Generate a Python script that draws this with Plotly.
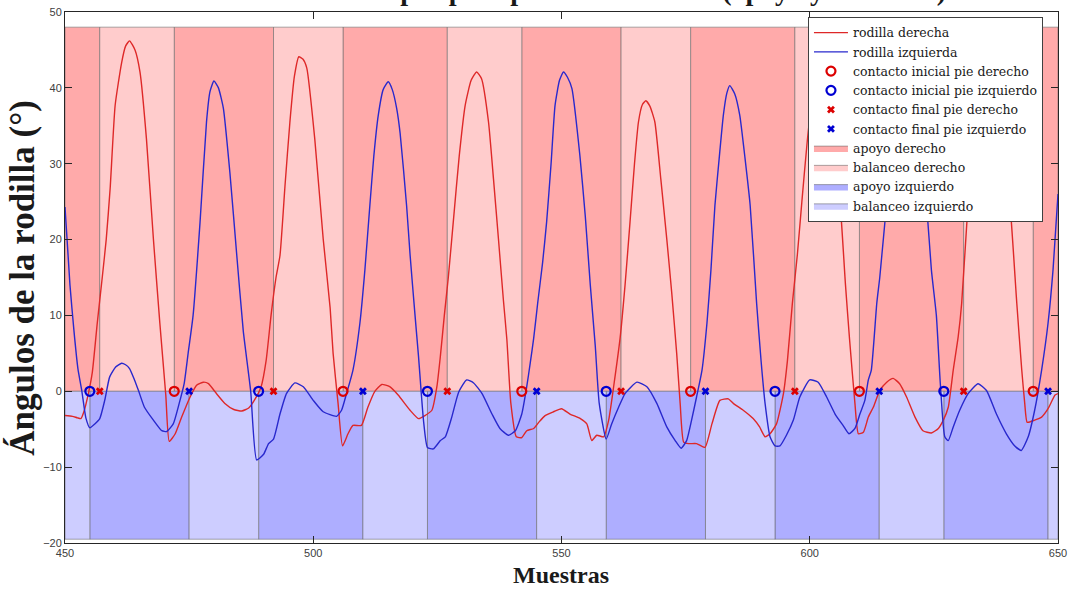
import plotly.graph_objects as go

# ---------------- data ----------------
x_range = [450, 650]
y_range = [-20, 50]

# rodilla derecha (muestra, ángulo)
der_x = [450, 451.5, 452.5, 453.2, 453.8, 454.7, 455.5, 456.5, 457.5, 458.3, 459.1, 460.1, 461.4, 462.2, 463,
         464.1, 465.1, 466.4, 467.8, 469.1, 470.3, 471, 472.2, 473.5, 475.2, 476.5, 477.9, 478.9, 480.5, 482.2,
         484, 485.6, 487, 488.3, 489.5, 490.5, 491.5, 492.5, 493.3, 494.3, 495.3, 496.2, 497.1, 497.9, 498.7,
         500.3, 502, 503.4, 504, 505, 505.9, 507, 508, 509.7, 511, 512.4, 513.8, 515.4, 517.1, 519.5, 521.2,
         522.5, 523.9, 524.9, 525.6, 526.4, 527.2, 528.2, 529.4, 530.6, 531.8, 532.9, 533.9, 535.3, 536.3, 537.3,
         538.3, 539, 539.8, 540.9, 542, 543, 544.4, 545.4, 546.7, 548.4, 550, 551.7, 553.8, 555.1, 556.1, 557.1,
         558.5, 559.5, 560.5, 561.8, 562.8, 563.8, 564.7, 565.5, 566.3, 567, 567.8, 568.8, 570, 571.2, 572.2,
         573.2, 573.9, 574.6, 575.6, 577.2, 578.9, 580.3, 581.9, 583.6, 584.6, 586.6, 588.6, 589.9, 591, 592,
         593.3, 594.7, 595.5, 596.5, 597.5, 598.4, 599.5, 600.6, 601.8, 602.8, 604, 605.1, 606.1, 607.2, 608,
         609.1, 609.8, 610.8, 611.8, 612.8, 614.1, 615.5, 616.8, 618.1, 619.5, 621.2, 622.8, 624.5, 625.9, 626.9,
         627.9, 628.9, 629.9, 630.6, 631.9, 633, 634.3, 635.6, 636.8, 638, 639.2, 640.3, 641.7, 642.7, 643.3,
         643.8, 645.3, 646.7, 648, 649.4, 650]
der_y = [-3.2, -3.3, -3.5, -3.6, -2.7, -0.3, 2.5, 9, 15, 20, 26.8, 37.7, 43.3, 45.5, 46.2,
         45, 42.1, 33.3, 20.1, 9.0, -0.5, -6.6, -5.6, -3.4, -0.75, 0.8, 1.2, 1.0, -0.3, -1.6,
         -2.4, -2.6, -2.2, -1.0, 0.6, 4, 10, 15, 17.9, 27, 35.5, 41.5, 44.1, 43.8, 42.6,
         33.3, 20.1, 11, 5, -1.6, -7.2, -5.6, -4.5, -4.5, -2.1, 0, 0.9, 0.6, -0.5, -2.5, -3.6,
         -3.2, -2.5, 0.6, 4.6, 10, 15, 22.3, 31, 37.7, 41, 42.1, 41.2, 35.5, 28, 20.1,
         12, 6.8, -1.6, -6.0, -6.1, -5.2, -4.9, -4.1, -3.2, -2.7, -2.3, -3.0, -3.6, -4.3, -6.5, -5.8,
         -6.0, -3.8, 0.6, 7, 14, 22.3, 30, 35.5, 37.8, 38.3, 37.6, 35.5, 28, 20.1, 13,
         5, -1.6, -6.7, -6.9, -6.9, -7.4, -4.3, -1.2, -1.0, -1.6, -2.5, -3.6, -4.7, -6.0, -5.6,
         -4.3, -0.3, 4, 11.6, 18, 24.9, 33, 39, 42.5, 42, 37, 30, 24.9, 14, 7,
         -1.6, -5.6, -5.4, -3.4, -2.1, 0.1, 1.2, 1.7, 1.0, -0.75, -3.4, -5.2, -5.5, -4.9, -3.8,
         -2.1, 2.8, 7.2, 11.6, 24.9, 34, 40.5, 43.5, 43, 37, 30, 24.9, 11.6, 2.8, -1.6,
         -4.1, -3.8, -3.4, -2.3, -0.5, -0.3]

# rodilla izquierda (muestra, ángulo)
izq_x = [450, 451, 451.8, 452.6, 453.4, 454.2, 455, 456, 457, 458, 459, 460.2, 461.4, 462.2, 463, 464, 464.8,
         466, 467.8, 469.5, 470.5, 471.8, 473, 474, 474.8, 475.8, 477.2, 478.5, 479.2, 480, 480.9, 481.9,
         483.2, 484.6, 485.9, 487.4, 488.6, 490, 491, 492, 493.3, 494.6, 496.3, 498, 500, 502, 504.7, 505.7,
         506.7, 508, 509.4, 510.4, 511.4, 512.2, 513.1, 514.1, 515.1, 515.9, 516.8, 517.5, 518.8, 519.5,
         520.5, 521.2, 522.2, 523, 524.2, 525.6, 526.6, 527.9, 529.3, 530.9, 532.3, 534, 536, 537.6, 539.3,
         540.7, 542, 543, 543.7, 544.4, 545.2, 546.2, 547, 547.9, 548.7, 549.6, 550.4, 551.2, 552.1, 553.7,
         554.8, 555.8, 556.8, 557.6, 559, 560.1, 561.5, 562.8, 565.2, 567.2, 569.2, 571.2, 572.9, 574.1,
         575.2, 576.2, 577.2, 578.3, 579.3, 580.1, 580.9, 581.8, 582.6, 583.3, 583.9, 584.9, 585.9, 587, 588,
         589.3, 590.2, 591, 592, 593, 594, 595.3, 596.7, 598, 600, 601.7, 603.4, 605.1, 606.7, 607.9, 609.1,
         610.1, 611.1, 611.8, 612.4, 613.5, 614.1, 615.5, 616.7, 618, 619.4, 620.8, 622.2, 623.5, 624.5,
         625.5, 626.3, 627.2, 627.9, 628.9, 630.2, 631.9, 633.9, 635.6, 637.6, 639.6, 641.3, 642.6, 644,
         645.3, 646.7, 648, 649, 650]
izq_y = [24.3, 14, 8, 3, 0, -3.5, -4.8, -4.3, -3.6, -1.2, 1.9, 3.2, 3.7, 3.5, 3.0, 1.5, 0.1,
         -2.1, -3.8, -5.2, -5.3, -4.3, -1.6, 1.0, 5, 10, 22.3, 35.5, 39.5, 40.9, 40, 37.3,
         28.9, 17.9, 8, 0, -9.05, -8.3, -6.9, -6.3, -3.0, -0.3, 1.1, 0.6, -1.2, -2.7, -3.3, -2.5,
         -0.3, 2.8, 9.0, 16, 24.5, 31, 36.4, 39.8, 40.8, 39.8, 37.3, 34, 24.5, 18,
         10, 4.6, -3.8, -7.4, -7.6, -6.5, -6.0, -3.4, -0.1, 1.5, 1.1, -0.3, -3.0, -4.9, -5.8,
         -5.2, -3.0, 0.6, 3.7, 7, 11.6, 17, 22.3, 30, 37.7, 41, 42.1, 41.4, 39.9, 31.1,
         23, 14, 6, -1.6, -6.3, -4.3, -2.1, -0.3, 1.2, 0.6, -1.6, -4.7, -6.5, -7.5,
         -6.5, -3.8, -0.75, 2.8, 9, 16, 24.5, 31, 36.4, 39.3, 40.3, 39.2, 36.4, 30.5, 24.5,
         11.6, 4, -1.6, -6.0, -7.2, -7.2, -5.8, -3.8, -0.75, 1.5, 1.2, -0.75, -3.0, -4.5, -5.6, -4.9,
         -3.0, -1.2, 1.5, 2.8, 11.6, 15, 24.9, 33, 38.5, 41, 39.5, 33, 24.9, 16,
         10, 1, -6.0, -6.5, -4.7, -2.5, -0.3, 1.0, 0.1, -3.0, -5.6, -7.2, -7.8, -6.0,
         -2.5, 2.8, 9.0, 16, 26]

# eventos (muestras)
ci_der = [472, 506, 542, 576, 610, 645]   # contacto inicial pie derecho
ci_izq = [455, 489, 523, 559, 593, 627]   # contacto inicial pie izquierdo
cf_der = [457, 492, 527, 562, 597, 631]   # contacto final pie derecho
cf_izq = [475, 510, 545, 579, 614, 648]   # contacto final pie izquierdo

# ---------------- styles ----------------
RED_TOP = 48
BLUE_BOT = -19.5
col_line_r = "rgb(222,40,40)"
col_line_b = "rgb(40,40,205)"
col_ap_r = "rgb(255,170,170)"
col_bal_r = "rgb(255,204,204)"
col_ap_b = "rgb(174,174,255)"
col_bal_b = "rgb(205,205,255)"
edge = "rgba(100,100,100,0.55)"
serif = "Liberation Serif, Times New Roman, serif"
legend_font = "DejaVu Serif, serif"


def phases(start_ev, end_ev):
    """stance = [initial contact -> next final contact], swing = the rest"""
    bounds = sorted([(e, "s") for e in start_ev] + [(e, "f") for e in end_ev])
    stance, swing = [], []
    prev = x_range[0]
    for pos, kind in bounds:
        if kind == "f":
            stance.append((prev, pos))
        else:
            swing.append((prev, pos))
        prev = pos
    last_kind = bounds[-1][1]
    (stance if last_kind == "s" else swing).append((prev, x_range[1]))
    return stance, swing


def rect_trace(intervals, y0, y1, color, name, rank):
    xs, ys = [], []
    for a, b in intervals:
        xs += [a, b, b, a, a, None]
        ys += [y0, y0, y1, y1, y0, None]
    return go.Scatter(x=xs, y=ys, mode="lines", fill="toself", fillcolor=color,
                      line=dict(color=edge, width=1), name=name, legendrank=rank,
                      hoverinfo="skip")


ap_r, bal_r = phases(ci_der, cf_der)
ap_b, bal_b = phases(ci_izq, cf_izq)

fig = go.Figure()
fig.add_trace(rect_trace(ap_r, 0, RED_TOP, col_ap_r, "apoyo derecho", 7))
fig.add_trace(rect_trace(bal_r, 0, RED_TOP, col_bal_r, "balanceo derecho", 8))
fig.add_trace(rect_trace(ap_b, BLUE_BOT, 0, col_ap_b, "apoyo izquierdo", 9))
fig.add_trace(rect_trace(bal_b, BLUE_BOT, 0, col_bal_b, "balanceo izquierdo", 10))

fig.add_trace(go.Scatter(x=der_x, y=der_y, mode="lines",
                         line=dict(color=col_line_r, width=1.4, shape="spline", smoothing=0.5),
                         name="rodilla derecha", legendrank=1))
fig.add_trace(go.Scatter(x=izq_x, y=izq_y, mode="lines",
                         line=dict(color=col_line_b, width=1.4, shape="spline", smoothing=0.5),
                         name="rodilla izquierda", legendrank=2))

fig.add_trace(go.Scatter(x=ci_der, y=[0] * len(ci_der), mode="markers",
                         marker=dict(symbol="circle-open", size=9, color="rgb(220,0,0)",
                                     line=dict(width=2.2, color="rgb(220,0,0)")),
                         name="contacto inicial pie derecho", legendrank=3))
fig.add_trace(go.Scatter(x=ci_izq, y=[0] * len(ci_izq), mode="markers",
                         marker=dict(symbol="circle-open", size=9, color="rgb(0,0,210)",
                                     line=dict(width=2.2, color="rgb(0,0,210)")),
                         name="contacto inicial pie izquierdo", legendrank=4))
fig.add_trace(go.Scatter(x=cf_der, y=[0] * len(cf_der), mode="markers",
                         marker=dict(symbol="x", size=7, color="rgb(220,0,0)", line=dict(width=0)),
                         name="contacto final pie derecho", legendrank=5))
fig.add_trace(go.Scatter(x=cf_izq, y=[0] * len(cf_izq), mode="markers",
                         marker=dict(symbol="x", size=7, color="rgb(0,0,210)", line=dict(width=0)),
                         name="contacto final pie izquierdo", legendrank=6))

axis_common = dict(showline=True, linecolor="#262626", linewidth=1, mirror="ticks",
                   ticks="inside", ticklen=7, tickcolor="#262626", showgrid=False, zeroline=False,
                   automargin=False,
                   tickfont=dict(family="Liberation Sans Narrow, Liberation Sans, Arial", size=11,
                                 color="#404040"))

fig.update_layout(
    width=1069, height=589,
    margin=dict(l=65, r=11, t=12, b=46),
    paper_bgcolor="white", plot_bgcolor="white",
    showlegend=True,
    legend=dict(x=0.7482, y=0.9906, xanchor="left", yanchor="top", bgcolor="white",
                bordercolor="#404040", borderwidth=1, itemwidth=34, tracegroupgap=0,
                font=dict(family=legend_font, size=12.5, color="#1a1a1a")),
    xaxis=dict(range=x_range, dtick=50, tick0=450, **axis_common),
    yaxis=dict(range=y_range, dtick=10, tick0=-20, **axis_common),
    annotations=[
        dict(text="<b>Muestras</b>", xref="paper", yref="paper", x=0.499, y=-0.06,
             xanchor="center", yanchor="middle", showarrow=False,
             font=dict(family=serif, size=24, color="#1a1a1a")),
        dict(text="<b>Ángulos de la rodilla (°)</b>", xref="paper", yref="paper",
             x=-0.043, y=0.5, xanchor="center", yanchor="middle", textangle=-90, showarrow=False,
             font=dict(family=serif, size=35, color="#1a1a1a")),
        dict(text="<b>Fases de la marcha por paso para cada rodilla (apoyo y balanceo)</b>",
             xref="paper", yref="paper", x=0.494, y=1.0077, xanchor="center", yanchor="bottom",
             showarrow=False, font=dict(family=serif, size=28, color="#1a1a1a")),
    ],
)

fig.write_html("out.html")
